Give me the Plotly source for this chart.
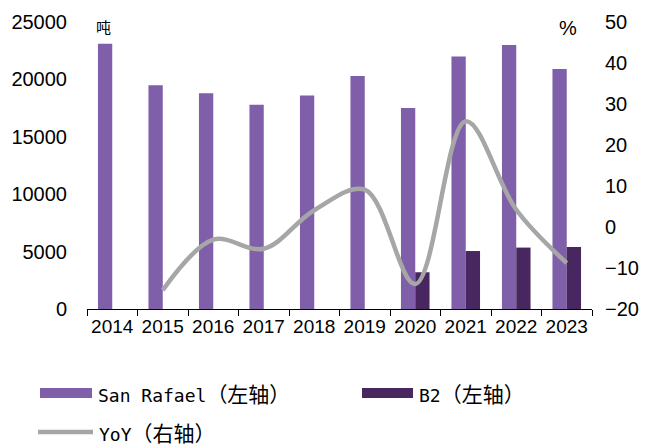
import plotly.graph_objects as go

years = ["2014", "2015", "2016", "2017", "2018", "2019", "2020", "2021", "2022", "2023"]
san_rafael = [23100, 19500, 18800, 17800, 18600, 20300, 17500, 22000, 23000, 20900]
b2 = [None, None, None, None, None, None, 3200, 5050, 5350, 5400]
yoy = [None, -15.4, -3.1, -5.3, 4.1, 9.1, -13.9, 25.8, 4.2, -8.8]

names = ["San Rafael", "B2", "YoY"]
axis_notes = ["（左轴）", "（左轴）", "（右轴）"]
left_ticks = [0, 5000, 10000, 15000, 20000, 25000]
right_ticks = [-20, -10, 0, 10, 20, 30, 40, 50]

C_SR = "#7F5FA9"
C_B2 = "#48265F"
C_YOY = "#A6A6A6"

# the page body adds an 8px offset; the figure is sized to fit inside the window
OFF = 8
W, H = 648 - OFF, 446 - OFF
ML, MR, MT, MB = 87 - OFF, 56, 22 - OFF, 137
PW, PH = W - ML - MR, H - MT - MB


def px_x(sx):
    return (sx - OFF - ML) / PW


def px_y(sy):
    return (H - MB - (sy - OFF)) / PH


fig = go.Figure()
fig.add_trace(go.Bar(x=years, y=san_rafael, name=names[0], marker_color=C_SR,
                     marker_line_width=0, showlegend=False))
fig.add_trace(go.Bar(x=years, y=b2, name=names[1], marker_color=C_B2,
                     marker_line_width=0, showlegend=False))
fig.add_trace(go.Scatter(x=years, y=yoy, name=names[2], yaxis="y2", mode="lines",
                         line=dict(color=C_YOY, width=4.5, shape="spline", smoothing=1.0),
                         connectgaps=False, showlegend=False))

tickfont = dict(family="Liberation Sans", size=20, color="#000000")

fig.update_layout(
    width=W, height=H,
    margin=dict(l=ML, r=MR, t=MT, b=MB, pad=0, autoexpand=False),
    paper_bgcolor="white", plot_bgcolor="white",
    barmode="group", bargap=0.434, bargroupgap=0,
    xaxis=dict(type="category", showline=True, linecolor="#000000", linewidth=1,
               ticks="outside", tickson="boundaries", ticklen=6, tickcolor="#000000",
               tickangle=0, automargin=False,
               tickfont=dict(family="Liberation Sans", size=19, color="#000000"),
               showgrid=False, zeroline=False),
    yaxis=dict(range=[0, 25000], tickvals=left_ticks, tickformat="d", showgrid=False,
               zeroline=False, showline=False, ticks="", tickfont=tickfont,
               ticklabelstandoff=19, automargin=False),
    yaxis2=dict(range=[-20, 50], tickvals=right_ticks, tickformat="d", overlaying="y",
                side="right", showgrid=False, zeroline=False, showline=False, ticks="",
                tickfont=tickfont, ticklabelstandoff=12, automargin=False),
    showlegend=False,
)

annotations = [
    dict(text="吨", x=px_x(103), y=px_y(27), xref="paper", yref="paper",
         showarrow=False, xanchor="center", yanchor="middle",
         font=dict(family="Noto Sans CJK SC", size=15, color="#000000")),
    dict(text="%", x=px_x(568), y=px_y(28), xref="paper", yref="paper",
         showarrow=False, xanchor="center", yanchor="middle",
         font=dict(family="Liberation Sans", size=20, color="#000000")),
]

shapes = []
# custom legend
legend_items = [
    (names[0], axis_notes[0], "rect", C_SR, 40, 92, 393),
    (names[1], axis_notes[1], "rect", C_B2, 362, 413, 393),
    (names[2], axis_notes[2], "line", C_YOY, 38, 93, 432),
]
for name, note, kind, color, x0, x1, yc in legend_items:
    if kind == "rect":
        shapes.append(dict(type="rect", xref="paper", yref="paper",
                           x0=px_x(x0), x1=px_x(x1), y0=px_y(yc - 5), y1=px_y(yc + 5),
                           fillcolor=color, line=dict(width=0)))
    else:
        shapes.append(dict(type="line", xref="paper", yref="paper",
                           x0=px_x(x0), x1=px_x(x1), y0=px_y(yc), y1=px_y(yc),
                           line=dict(color=color, width=4.5)))
    annotations.append(dict(
        text=name + '<span style="font-family:Noto Sans CJK SC;font-size:21px">' + note + "</span>",
        x=px_x(x1 + 4), y=px_y(yc), xref="paper", yref="paper",
        showarrow=False, xanchor="left", yanchor="middle",
        font=dict(family="DejaVu Sans Mono", size=18, color="#000000")))

fig.update_layout(annotations=annotations, shapes=shapes)

fig.write_html("out.html")
